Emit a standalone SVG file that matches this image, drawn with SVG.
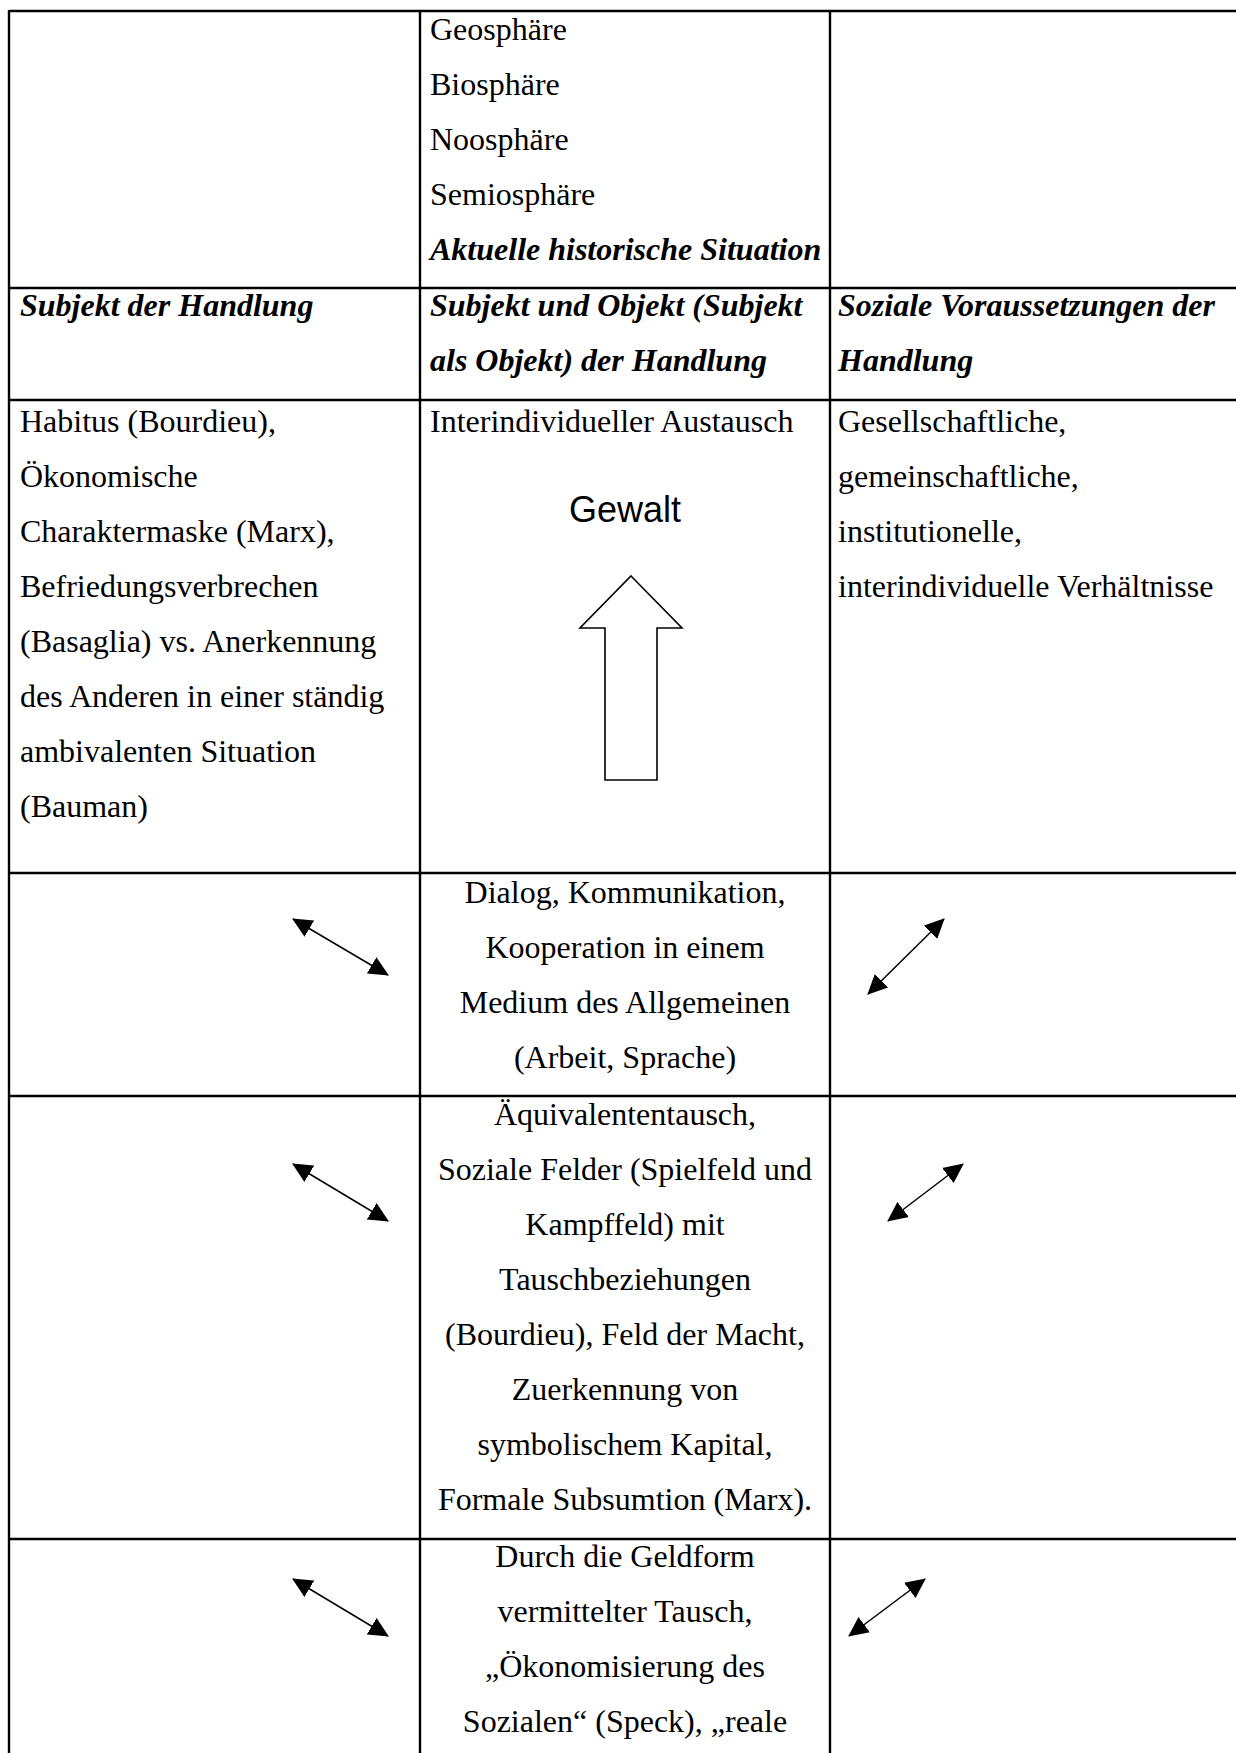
<svg xmlns="http://www.w3.org/2000/svg" width="1236" height="1753" viewBox="0 0 1236 1753">
<style>
.t{font-family:"Liberation Serif","Times New Roman",serif;font-size:32px;fill:#000}
.b{font-weight:bold;font-style:italic}
.c{text-anchor:middle}
.grid{stroke:#000;stroke-width:2.4;fill:none}
.conn{stroke:#000;stroke-width:1.5;fill:none;marker-start:url(#ah);marker-end:url(#ah)}
</style>
<defs>
<marker id="ah" viewBox="0 0 20 20" refX="19" refY="10" markerWidth="20" markerHeight="20" markerUnits="userSpaceOnUse" orient="auto-start-reverse">
<path d="M0,0.5 L20,10 L0,19.5 Z" fill="#000"/>
</marker>
</defs>
<rect width="1236" height="1753" fill="#fff"/>
<g id="grid" class="grid">
<line x1="9" y1="11" x2="1236" y2="11"/>
<line x1="9" y1="288" x2="1236" y2="288"/>
<line x1="9" y1="400" x2="1236" y2="400"/>
<line x1="9" y1="873" x2="1236" y2="873"/>
<line x1="9" y1="1096" x2="1236" y2="1096"/>
<line x1="9" y1="1539" x2="1236" y2="1539"/>
<line x1="9" y1="10" x2="9" y2="1753"/>
<line x1="420" y1="10" x2="420" y2="1753"/>
<line x1="830" y1="10" x2="830" y2="1753"/>
</g>
<g id="spheres" class="t">
<text x="430" y="40">Geosphäre</text>
<text x="430" y="95">Biosphäre</text>
<text x="430" y="150">Noosphäre</text>
<text x="430" y="205">Semiosphäre</text>
<text x="430" y="260" class="b">Aktuelle historische Situation</text>
</g>
<g id="head-subjekt" class="t b">
<text x="20" y="316">Subjekt der Handlung</text>
</g>
<g id="head-subjekt-objekt" class="t b">
<text x="430" y="316">Subjekt und Objekt (Subjekt</text>
<text x="430" y="371">als Objekt) der Handlung</text>
</g>
<g id="head-soziale" class="t b">
<text x="838" y="316">Soziale Voraussetzungen der</text>
<text x="838" y="371">Handlung</text>
</g>
<g id="habitus" class="t">
<text x="20" y="432">Habitus (Bourdieu),</text>
<text x="20" y="487">Ökonomische</text>
<text x="20" y="542">Charaktermaske (Marx),</text>
<text x="20" y="597">Befriedungsverbrechen</text>
<text x="20" y="652">(Basaglia) vs. Anerkennung</text>
<text x="20" y="707">des Anderen in einer ständig</text>
<text x="20" y="762">ambivalenten Situation</text>
<text x="20" y="817">(Bauman)</text>
</g>
<g id="austausch">
<text x="430" y="432" class="t">Interindividueller Austausch</text>
<text x="625" y="522" style="font-family:'Liberation Sans',Arial,sans-serif;font-size:36px;text-anchor:middle">Gewalt</text>
<polygon points="631,576 682,628 657,628 657,780 605,780 605,628 580,628" fill="#fff" stroke="#000" stroke-width="1.6"/>
</g>
<g id="verhaeltnisse" class="t">
<text x="838" y="432">Gesellschaftliche,</text>
<text x="838" y="487">gemeinschaftliche,</text>
<text x="838" y="542">institutionelle,</text>
<text x="838" y="597">interindividuelle Verhältnisse</text>
</g>
<g id="dialog" class="t c">
<text x="625" y="903">Dialog, Kommunikation,</text>
<text x="625" y="958">Kooperation in einem</text>
<text x="625" y="1013">Medium des Allgemeinen</text>
<text x="625" y="1068">(Arbeit, Sprache)</text>
</g>
<g id="aequivalententausch" class="t c">
<text x="625" y="1125">Äquivalententausch,</text>
<text x="625" y="1180">Soziale Felder (Spielfeld und</text>
<text x="625" y="1235">Kampffeld) mit</text>
<text x="625" y="1290">Tauschbeziehungen</text>
<text x="625" y="1345">(Bourdieu), Feld der Macht,</text>
<text x="625" y="1400">Zuerkennung von</text>
<text x="625" y="1455">symbolischem Kapital,</text>
<text x="625" y="1510">Formale Subsumtion (Marx).</text>
</g>
<g id="geldform" class="t c">
<text x="625" y="1567">Durch die Geldform</text>
<text x="625" y="1622">vermittelter Tausch,</text>
<text x="625" y="1677">„Ökonomisierung des</text>
<text x="625" y="1732">Sozialen“ (Speck), „reale</text>
</g>
<g id="connectors">
<line class="conn" x1="293" y1="919" x2="388" y2="975"/>
<line class="conn" x1="868" y1="994" x2="944" y2="919"/>
<line class="conn" x1="293" y1="1164" x2="388" y2="1221"/>
<line class="conn" x1="888" y1="1221" x2="963" y2="1164"/>
<line class="conn" x1="293" y1="1579" x2="388" y2="1636"/>
<line class="conn" x1="849" y1="1636" x2="925" y2="1579"/>
</g>
</svg>
